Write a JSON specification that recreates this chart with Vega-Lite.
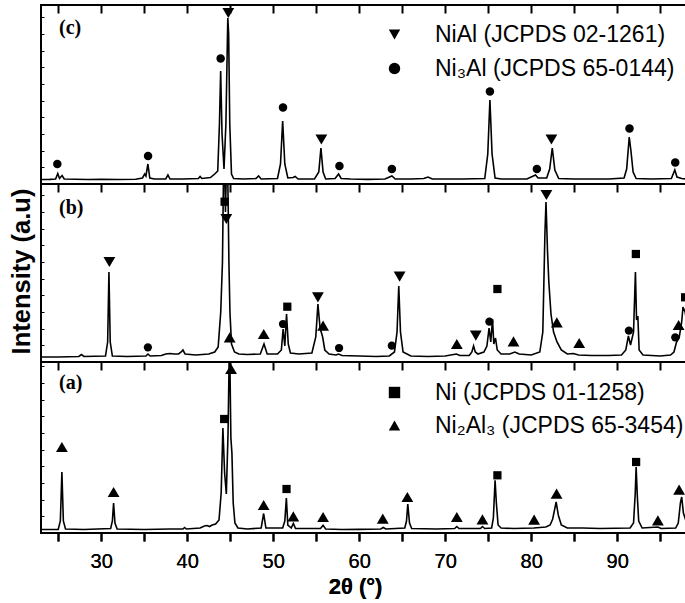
{
  "$schema": "https://vega.github.io/schema/vega-lite/v6.json",
  "autosize": {"type": "pad"},
  "padding": {"left": 8, "top": 3, "right": 0, "bottom": 4},
  "background": "white",
  "bounds": "flush",
  "spacing": 0,
  "datasets": {
    "scan_c": [
      {"t": 23.0, "i": 4.5}, {"t": 24.0, "i": 4.6}, {"t": 24.7, "i": 5}, {"t": 24.95, "i": 10.5}, {"t": 25.15, "i": 5.5},
      {"t": 25.45, "i": 8.5}, {"t": 25.7, "i": 5}, {"t": 27.0, "i": 4.8}, {"t": 28.5, "i": 4.5}, {"t": 30.0, "i": 4.7},
      {"t": 32.0, "i": 4.5}, {"t": 34.0, "i": 4.8}, {"t": 34.8, "i": 6}, {"t": 35.05, "i": 10}, {"t": 35.2, "i": 8},
      {"t": 35.43, "i": 20}, {"t": 35.65, "i": 6}, {"t": 36.2, "i": 5}, {"t": 37.5, "i": 5}, {"t": 37.76, "i": 9},
      {"t": 38.0, "i": 5}, {"t": 39.5, "i": 5}, {"t": 41.3, "i": 5.5}, {"t": 41.5, "i": 7.5}, {"t": 41.7, "i": 5.5},
      {"t": 42.7, "i": 6.5}, {"t": 43.2, "i": 10}, {"t": 43.55, "i": 13}, {"t": 43.75, "i": 60}, {"t": 43.89, "i": 113},
      {"t": 44.05, "i": 50}, {"t": 44.28, "i": 15}, {"t": 44.5, "i": 60}, {"t": 44.72, "i": 166}, {"t": 44.82, "i": 150},
      {"t": 44.95, "i": 60}, {"t": 45.15, "i": 10}, {"t": 45.4, "i": 5.5}, {"t": 46.5, "i": 5}, {"t": 48.0, "i": 5.5},
      {"t": 48.3, "i": 8}, {"t": 48.6, "i": 5}, {"t": 50.5, "i": 5.5}, {"t": 50.85, "i": 20}, {"t": 51.1, "i": 63},
      {"t": 51.35, "i": 20}, {"t": 51.7, "i": 6}, {"t": 52.3, "i": 6.5}, {"t": 52.55, "i": 7.5}, {"t": 52.9, "i": 5},
      {"t": 54.8, "i": 5}, {"t": 55.3, "i": 12}, {"t": 55.55, "i": 36}, {"t": 55.8, "i": 12}, {"t": 56.1, "i": 5},
      {"t": 57.2, "i": 5.5}, {"t": 57.6, "i": 10}, {"t": 57.9, "i": 5.5}, {"t": 59.0, "i": 5}, {"t": 61.0, "i": 4.6},
      {"t": 63.0, "i": 5}, {"t": 63.8, "i": 8}, {"t": 64.2, "i": 5}, {"t": 66.0, "i": 5}, {"t": 67.5, "i": 5.5},
      {"t": 68.0, "i": 7}, {"t": 68.5, "i": 5}, {"t": 70.0, "i": 5}, {"t": 72.0, "i": 5}, {"t": 74.6, "i": 5.5},
      {"t": 74.95, "i": 30}, {"t": 75.2, "i": 84}, {"t": 75.45, "i": 30}, {"t": 75.8, "i": 6}, {"t": 76.5, "i": 5},
      {"t": 78.0, "i": 5}, {"t": 79.5, "i": 5}, {"t": 80.5, "i": 9}, {"t": 80.8, "i": 6}, {"t": 81.8, "i": 6},
      {"t": 82.15, "i": 15}, {"t": 82.45, "i": 36}, {"t": 82.75, "i": 14}, {"t": 83.2, "i": 5.5}, {"t": 85.0, "i": 5},
      {"t": 87.0, "i": 5}, {"t": 89.0, "i": 5}, {"t": 90.8, "i": 6}, {"t": 91.1, "i": 15}, {"t": 91.4, "i": 47},
      {"t": 91.6, "i": 33}, {"t": 91.85, "i": 12}, {"t": 92.2, "i": 5.5}, {"t": 94.0, "i": 5}, {"t": 96.3, "i": 5.5},
      {"t": 96.7, "i": 14}, {"t": 96.95, "i": 7}, {"t": 97.5, "i": 5.5}, {"t": 98.0, "i": 5}
    ],
    "peaks_c": [
      {"t": 44.78, "i": 171, "phase": "NiAl"}, {"t": 55.6, "i": 44.5, "phase": "NiAl"}, {"t": 82.35, "i": 44.5, "phase": "NiAl"},
      {"t": 24.9, "i": 20, "phase": "Ni3Al"}, {"t": 35.45, "i": 28, "phase": "Ni3Al"}, {"t": 43.89, "i": 125.5, "phase": "Ni3Al"},
      {"t": 51.14, "i": 76.5, "phase": "Ni3Al"}, {"t": 57.7, "i": 18, "phase": "Ni3Al"}, {"t": 63.8, "i": 15, "phase": "Ni3Al"},
      {"t": 75.2, "i": 92.5, "phase": "Ni3Al"}, {"t": 80.66, "i": 15, "phase": "Ni3Al"}, {"t": 91.43, "i": 55.5, "phase": "Ni3Al"},
      {"t": 96.75, "i": 21.5, "phase": "Ni3Al"}
    ],
    "scan_b": [
      {"t": 23.0, "i": 5}, {"t": 25.0, "i": 5}, {"t": 27.4, "i": 5.5}, {"t": 27.7, "i": 7.5}, {"t": 28.0, "i": 5.5},
      {"t": 30.5, "i": 6}, {"t": 30.75, "i": 20}, {"t": 30.9, "i": 90}, {"t": 31.05, "i": 20}, {"t": 31.3, "i": 6},
      {"t": 33.0, "i": 5.5}, {"t": 35.2, "i": 6}, {"t": 35.43, "i": 8}, {"t": 35.7, "i": 6}, {"t": 37.0, "i": 6.5},
      {"t": 37.5, "i": 8}, {"t": 38.0, "i": 8.5}, {"t": 38.5, "i": 8}, {"t": 39.0, "i": 8}, {"t": 39.3, "i": 10},
      {"t": 39.5, "i": 12}, {"t": 39.75, "i": 8}, {"t": 41.0, "i": 7}, {"t": 42.5, "i": 8}, {"t": 43.2, "i": 10},
      {"t": 43.6, "i": 15}, {"t": 43.9, "i": 50}, {"t": 44.1, "i": 100}, {"t": 44.28, "i": 230}, {"t": 44.45, "i": 150},
      {"t": 44.65, "i": 230}, {"t": 44.85, "i": 100}, {"t": 44.97, "i": 50}, {"t": 45.15, "i": 18}, {"t": 45.5, "i": 10},
      {"t": 46.0, "i": 8}, {"t": 47.0, "i": 7.5}, {"t": 48.5, "i": 8}, {"t": 48.93, "i": 18}, {"t": 49.3, "i": 8},
      {"t": 50.5, "i": 8}, {"t": 50.95, "i": 12}, {"t": 51.15, "i": 33}, {"t": 51.35, "i": 16}, {"t": 51.55, "i": 48},
      {"t": 51.75, "i": 18}, {"t": 52.0, "i": 9}, {"t": 53.0, "i": 8}, {"t": 54.5, "i": 9}, {"t": 54.95, "i": 25},
      {"t": 55.2, "i": 58}, {"t": 55.45, "i": 34}, {"t": 55.75, "i": 25}, {"t": 56.0, "i": 12}, {"t": 56.5, "i": 8},
      {"t": 57.3, "i": 7}, {"t": 57.6, "i": 8}, {"t": 58.0, "i": 6.5}, {"t": 60.0, "i": 6}, {"t": 62.0, "i": 5.5},
      {"t": 63.5, "i": 6}, {"t": 64.1, "i": 10}, {"t": 64.4, "i": 30}, {"t": 64.6, "i": 76}, {"t": 64.8, "i": 30},
      {"t": 65.1, "i": 10}, {"t": 66.0, "i": 6}, {"t": 68.0, "i": 5.5}, {"t": 70.0, "i": 6}, {"t": 71.3, "i": 8},
      {"t": 71.7, "i": 6.5}, {"t": 72.8, "i": 6.5}, {"t": 73.1, "i": 10}, {"t": 73.3, "i": 16}, {"t": 73.5, "i": 10},
      {"t": 73.8, "i": 8}, {"t": 74.5, "i": 10}, {"t": 74.85, "i": 16}, {"t": 75.1, "i": 34}, {"t": 75.3, "i": 20},
      {"t": 75.5, "i": 43}, {"t": 75.65, "i": 18}, {"t": 75.85, "i": 24}, {"t": 76.05, "i": 12}, {"t": 76.5, "i": 8},
      {"t": 77.5, "i": 8}, {"t": 78.1, "i": 10}, {"t": 78.6, "i": 8}, {"t": 80.0, "i": 7}, {"t": 81.0, "i": 10},
      {"t": 81.35, "i": 30}, {"t": 81.6, "i": 130}, {"t": 81.72, "i": 160}, {"t": 81.9, "i": 110}, {"t": 82.05, "i": 80},
      {"t": 82.3, "i": 48}, {"t": 82.6, "i": 30}, {"t": 83.0, "i": 20}, {"t": 83.5, "i": 12}, {"t": 84.2, "i": 8},
      {"t": 84.9, "i": 8.5}, {"t": 85.5, "i": 7}, {"t": 87.0, "i": 6.5}, {"t": 89.0, "i": 6.5}, {"t": 90.5, "i": 7},
      {"t": 91.0, "i": 12}, {"t": 91.3, "i": 26}, {"t": 91.55, "i": 17}, {"t": 91.9, "i": 30}, {"t": 92.12, "i": 90},
      {"t": 92.25, "i": 42}, {"t": 92.4, "i": 46}, {"t": 92.55, "i": 12}, {"t": 93.0, "i": 7}, {"t": 95.0, "i": 6},
      {"t": 96.2, "i": 7}, {"t": 96.6, "i": 10}, {"t": 96.9, "i": 20}, {"t": 97.2, "i": 24}, {"t": 97.5, "i": 40},
      {"t": 97.65, "i": 55}, {"t": 97.9, "i": 50}, {"t": 98.0, "i": 45}
    ],
    "peaks_b": [
      {"t": 30.95, "i": 100, "phase": "NiAl"}, {"t": 44.55, "i": 143, "phase": "NiAl"}, {"t": 55.2, "i": 64.7, "phase": "NiAl"},
      {"t": 64.7, "i": 85.3, "phase": "NiAl"}, {"t": 73.56, "i": 26.3, "phase": "NiAl"}, {"t": 81.77, "i": 167, "phase": "NiAl"},
      {"t": 44.35, "i": 160.3, "phase": "Ni"}, {"t": 51.64, "i": 55.3, "phase": "Ni"}, {"t": 76.07, "i": 73, "phase": "Ni"},
      {"t": 92.17, "i": 108, "phase": "Ni"}, {"t": 97.9, "i": 64.7, "phase": "Ni"},
      {"t": 35.43, "i": 14.7, "phase": "Ni3Al"}, {"t": 51.14, "i": 38, "phase": "Ni3Al"}, {"t": 57.66, "i": 14, "phase": "Ni3Al"},
      {"t": 63.79, "i": 16.3, "phase": "Ni3Al"}, {"t": 75.14, "i": 40.3, "phase": "Ni3Al"}, {"t": 91.36, "i": 31.3, "phase": "Ni3Al"},
      {"t": 96.75, "i": 24.7, "phase": "Ni3Al"},
      {"t": 44.94, "i": 24.7, "phase": "Ni2Al3"}, {"t": 48.9, "i": 28, "phase": "Ni2Al3"}, {"t": 55.8, "i": 36.3, "phase": "Ni2Al3"},
      {"t": 71.35, "i": 18, "phase": "Ni2Al3"}, {"t": 77.94, "i": 20.7, "phase": "Ni2Al3"}, {"t": 82.98, "i": 39.7, "phase": "Ni2Al3"},
      {"t": 85.58, "i": 19, "phase": "Ni2Al3"}, {"t": 97.14, "i": 37, "phase": "Ni2Al3"}
    ],
    "scan_a": [
      {"t": 23.0, "i": 3.5}, {"t": 25.0, "i": 3.6}, {"t": 25.25, "i": 12}, {"t": 25.43, "i": 61}, {"t": 25.6, "i": 12},
      {"t": 25.85, "i": 4}, {"t": 28.0, "i": 3.5}, {"t": 31.1, "i": 4.5}, {"t": 31.3, "i": 12}, {"t": 31.44, "i": 30},
      {"t": 31.6, "i": 10}, {"t": 31.85, "i": 4}, {"t": 35.0, "i": 3.5}, {"t": 38.0, "i": 4}, {"t": 39.5, "i": 4},
      {"t": 39.7, "i": 5.5}, {"t": 39.9, "i": 4}, {"t": 41.5, "i": 5}, {"t": 42.0, "i": 7}, {"t": 42.3, "i": 7.5},
      {"t": 42.6, "i": 6.5}, {"t": 42.9, "i": 8}, {"t": 43.3, "i": 9}, {"t": 43.7, "i": 13}, {"t": 43.95, "i": 40},
      {"t": 44.15, "i": 105}, {"t": 44.35, "i": 60}, {"t": 44.55, "i": 39}, {"t": 44.75, "i": 100}, {"t": 44.92, "i": 200},
      {"t": 45.08, "i": 95}, {"t": 45.2, "i": 80}, {"t": 45.35, "i": 30}, {"t": 45.55, "i": 10}, {"t": 45.9, "i": 5},
      {"t": 47.0, "i": 4}, {"t": 48.6, "i": 5}, {"t": 48.89, "i": 19.5}, {"t": 49.15, "i": 5}, {"t": 51.1, "i": 5},
      {"t": 51.35, "i": 12}, {"t": 51.53, "i": 35}, {"t": 51.7, "i": 8}, {"t": 52.1, "i": 5}, {"t": 52.34, "i": 9.5},
      {"t": 52.6, "i": 4.5}, {"t": 55.5, "i": 4.5}, {"t": 55.8, "i": 7.7}, {"t": 56.1, "i": 4}, {"t": 58.0, "i": 3.5},
      {"t": 60.0, "i": 3.6}, {"t": 62.5, "i": 4}, {"t": 62.8, "i": 5.5}, {"t": 63.1, "i": 4}, {"t": 65.3, "i": 5},
      {"t": 65.5, "i": 12}, {"t": 65.65, "i": 29}, {"t": 65.85, "i": 10}, {"t": 66.1, "i": 4.5}, {"t": 69.0, "i": 4},
      {"t": 71.1, "i": 4.5}, {"t": 71.35, "i": 6.5}, {"t": 71.6, "i": 4.5}, {"t": 74.1, "i": 4.5}, {"t": 74.33, "i": 6.5},
      {"t": 74.6, "i": 4.5}, {"t": 75.4, "i": 5}, {"t": 75.6, "i": 15}, {"t": 75.8, "i": 52.7}, {"t": 75.95, "i": 30},
      {"t": 76.15, "i": 8}, {"t": 76.5, "i": 5}, {"t": 78.0, "i": 4.5}, {"t": 80.3, "i": 5}, {"t": 81.7, "i": 6},
      {"t": 82.2, "i": 8}, {"t": 82.5, "i": 14}, {"t": 82.9, "i": 31}, {"t": 83.15, "i": 18}, {"t": 83.5, "i": 8},
      {"t": 84.2, "i": 5}, {"t": 86.0, "i": 5}, {"t": 88.0, "i": 4.5}, {"t": 91.5, "i": 5}, {"t": 91.9, "i": 10},
      {"t": 92.1, "i": 40}, {"t": 92.2, "i": 66}, {"t": 92.35, "i": 35}, {"t": 92.5, "i": 12}, {"t": 92.9, "i": 5},
      {"t": 94.73, "i": 6}, {"t": 95.1, "i": 4.5}, {"t": 96.8, "i": 5}, {"t": 97.1, "i": 10}, {"t": 97.35, "i": 30},
      {"t": 97.5, "i": 36}, {"t": 97.7, "i": 20}, {"t": 98.0, "i": 12}
    ],
    "peaks_a": [
      {"t": 44.3, "i": 114, "phase": "Ni"}, {"t": 51.55, "i": 44, "phase": "Ni"}, {"t": 76.07, "i": 57.7, "phase": "Ni"},
      {"t": 92.2, "i": 71, "phase": "Ni"},
      {"t": 25.43, "i": 86, "phase": "Ni2Al3"}, {"t": 31.44, "i": 41, "phase": "Ni2Al3"}, {"t": 45.1, "i": 164, "phase": "Ni2Al3"},
      {"t": 48.89, "i": 28, "phase": "Ni2Al3"}, {"t": 52.34, "i": 16.7, "phase": "Ni2Al3"}, {"t": 55.8, "i": 16, "phase": "Ni2Al3"},
      {"t": 62.74, "i": 14.3, "phase": "Ni2Al3"}, {"t": 65.6, "i": 36, "phase": "Ni2Al3"}, {"t": 71.35, "i": 16, "phase": "Ni2Al3"},
      {"t": 74.33, "i": 13.7, "phase": "Ni2Al3"}, {"t": 80.34, "i": 13.3, "phase": "Ni2Al3"}, {"t": 82.95, "i": 39.3, "phase": "Ni2Al3"},
      {"t": 94.73, "i": 12.7, "phase": "Ni2Al3"}, {"t": 97.2, "i": 43.3, "phase": "Ni2Al3"}
    ]
  },
  "resolve": {
    "scale": {"y": "independent", "shape": "independent"},
    "legend": {"shape": "independent"}
  },
  "vconcat": [
    {
      "width": 645,
      "height": 179,
      "title": {"text": "(c)", "offset": -34, "dx": 18, "fontSize": 20},
      "encoding": {
        "x": {"field": "t", "type": "quantitative", "scale": {"domain": [23, 98], "nice": false, "zero": false},
          "axis": {"orient": "top", "values": [25, 30, 35, 40, 45, 50, 55, 60, 65, 70, 75, 80, 85, 90, 95], "labels": false, "tickSize": -8, "tickWidth": 2, "title": null}},
        "y": {"field": "i", "type": "quantitative", "scale": {"domain": [0, 179], "nice": false, "zero": false},
          "axis": {"orient": "left", "values": [16.7, 33.3, 50, 66.7, 83.3, 100, 116.7, 133.3, 150, 166.7], "labels": false, "tickSize": -3, "tickWidth": 1, "title": null}}
      },
      "layer": [
        {"data": {"name": "scan_c"}, "mark": {"type": "line", "color": "black", "strokeWidth": 1.6, "clip": true}},
        {
          "data": {"name": "peaks_c"},
          "transform": [{"filter": {"field": "phase", "oneOf": ["NiAl"]}}],
          "mark": {"type": "point", "filled": true, "color": "black", "opacity": 1, "strokeWidth": 0, "size": 140},
          "encoding": {
            "shape": {"field": "phase", "type": "nominal", "scale": {"domain": ["NiAl", "Ni3Al"], "range": ["triangle-down", "circle"]},
              "legend": {"orient": "none", "legendX": 342, "legendY": 18, "title": null, "padding": 0, "rowPadding": 10,
                "labelExpr": "datum.value == 'Ni3Al' ? 'Ni₃Al (JCPDS 65-0144)' : 'NiAl (JCPDS 02-1261)'"}}
          }
        },
        {
          "data": {"name": "peaks_c"},
          "transform": [{"filter": {"field": "phase", "oneOf": ["Ni3Al"]}}],
          "mark": {"type": "point", "filled": true, "color": "black", "opacity": 1, "strokeWidth": 0, "size": 72},
          "encoding": {
            "shape": {"field": "phase", "type": "nominal", "scale": {"domain": ["NiAl", "Ni3Al"], "range": ["triangle-down", "circle"]},
              "legend": {"orient": "none", "legendX": 342, "legendY": 18, "title": null, "padding": 0, "rowPadding": 10,
                "labelExpr": "datum.value == 'Ni3Al' ? 'Ni₃Al (JCPDS 65-0144)' : 'NiAl (JCPDS 02-1261)'"}}
          }
        }
      ]
    },
    {
      "width": 645,
      "height": 178,
      "title": {"text": "(b)", "offset": -35, "dx": 18, "fontSize": 20},
      "encoding": {
        "x": {"field": "t", "type": "quantitative", "scale": {"domain": [23, 98], "nice": false, "zero": false},
          "axis": {"orient": "top", "values": [25, 30, 35, 40, 45, 50, 55, 60, 65, 70, 75, 80, 85, 90, 95], "labels": false, "tickSize": -8, "tickWidth": 2, "title": null}},
        "y": {"field": "i", "type": "quantitative", "scale": {"domain": [0, 178], "nice": false, "zero": false},
          "axis": {"orient": "left", "values": [16.7, 33.3, 50, 66.7, 83.3, 100, 116.7, 133.3, 150, 166.7], "labels": false, "tickSize": -3, "tickWidth": 1,
            "title": "Intensity (a.u)", "titleFont": "Liberation Sans", "titleFontWeight": "bold", "titleFontSize": 25.5, "titleColor": "black",
            "titleX": -20, "titleY": 87, "titleAngle": -90, "titleAlign": "center", "titleBaseline": "middle"}}
      },
      "layer": [
        {"data": {"name": "scan_b"}, "mark": {"type": "line", "color": "black", "strokeWidth": 1.6, "clip": true}},
        {
          "data": {"name": "peaks_b"},
          "transform": [{"filter": {"field": "phase", "oneOf": ["NiAl", "Ni2Al3"]}}],
          "mark": {"type": "point", "filled": true, "color": "black", "opacity": 1, "strokeWidth": 0, "size": 140},
          "encoding": {
            "shape": {"field": "phase", "type": "nominal", "scale": {"domain": ["NiAl", "Ni", "Ni3Al", "Ni2Al3"], "range": ["triangle-down", "square", "circle", "triangle-up"]}, "legend": null}
          }
        },
        {
          "data": {"name": "peaks_b"},
          "transform": [{"filter": {"field": "phase", "oneOf": ["Ni", "Ni3Al"]}}],
          "mark": {"type": "point", "filled": true, "color": "black", "opacity": 1, "strokeWidth": 0, "size": 68},
          "encoding": {
            "shape": {"field": "phase", "type": "nominal", "scale": {"domain": ["NiAl", "Ni", "Ni3Al", "Ni2Al3"], "range": ["triangle-down", "square", "circle", "triangle-up"]}, "legend": null}
          }
        }
      ]
    },
    {
      "width": 645,
      "height": 171,
      "title": {"text": "(a)", "offset": -32, "dx": 18, "fontSize": 20},
      "encoding": {
        "x": {"field": "t", "type": "quantitative", "scale": {"domain": [23, 98], "nice": false, "zero": false},
          "axis": {"orient": "bottom", "values": [25, 30, 35, 40, 45, 50, 55, 60, 65, 70, 75, 80, 85, 90, 95],
            "labelExpr": "datum.value % 10 == 0 ? datum.label : ''", "tickSize": 8, "tickWidth": 2,
            "labelFont": "Liberation Sans", "labelFontSize": 20, "labelPadding": 10, "labelColor": "black", "labelFlush": false, "labelOverlap": false,
            "title": "2θ (°)", "titleFont": "Liberation Sans", "titleFontWeight": "bold", "titleFontSize": 22, "titleColor": "black",
            "titleX": 314, "titleY": 53, "titleAlign": "center", "titleBaseline": "middle"}},
        "y": {"field": "i", "type": "quantitative", "scale": {"domain": [0, 171], "nice": false, "zero": false},
          "axis": {"orient": "left", "values": [16.7, 33.3, 50, 66.7, 83.3, 100, 116.7, 133.3, 150, 166.7], "labels": false, "tickSize": -3, "tickWidth": 1, "title": null}}
      },
      "layer": [
        {"data": {"name": "scan_a"}, "mark": {"type": "line", "color": "black", "strokeWidth": 1.6, "clip": true}},
        {
          "data": {"name": "peaks_a"},
          "transform": [{"filter": {"field": "phase", "oneOf": ["Ni"]}}],
          "mark": {"type": "point", "filled": true, "color": "black", "opacity": 1, "strokeWidth": 0, "size": 68},
          "encoding": {
            "x": {"field": "t", "type": "quantitative", "scale": {"domain": [23, 98], "nice": false, "zero": false},
              "axis": {"orient": "top", "values": [25, 30, 35, 40, 45, 50, 55, 60, 65, 70, 75, 80, 85, 90, 95], "labels": false, "tickSize": -8, "tickWidth": 2, "title": null}},
            "shape": {"field": "phase", "type": "nominal", "scale": {"domain": ["Ni", "Ni2Al3"], "range": ["square", "triangle-up"]},
              "legend": {"orient": "none", "legendX": 342, "legendY": 19, "title": null, "padding": 0, "rowPadding": 9,
                "labelExpr": "datum.value == 'Ni2Al3' ? 'Ni₂Al₃ (JCPDS 65-3454)' : 'Ni (JCPDS 01-1258)'"}}
          }
        },
        {
          "data": {"name": "peaks_a"},
          "transform": [{"filter": {"field": "phase", "oneOf": ["Ni2Al3"]}}],
          "mark": {"type": "point", "filled": true, "color": "black", "opacity": 1, "strokeWidth": 0, "size": 140},
          "encoding": {
            "shape": {"field": "phase", "type": "nominal", "scale": {"domain": ["Ni", "Ni2Al3"], "range": ["square", "triangle-up"]},
              "legend": {"orient": "none", "legendX": 342, "legendY": 19, "title": null, "padding": 0, "rowPadding": 9,
                "labelExpr": "datum.value == 'Ni2Al3' ? 'Ni₂Al₃ (JCPDS 65-3454)' : 'Ni (JCPDS 01-1258)'"}}
          }
        }
      ]
    }
  ],
  "config": {
    "view": {"stroke": "black", "strokeWidth": 2},
    "axis": {"domain": false, "grid": false, "tickColor": "black"},
    "title": {"anchor": "start", "frame": "group", "orient": "top",
      "font": "Liberation Serif", "fontWeight": "bold", "fontSize": 20, "color": "black"},
    "legend": {
      "labelFont": "Liberation Sans", "labelFontSize": 23, "labelColor": "black", "labelLimit": 400, "labelOffset": 29,
      "symbolSize": 130, "symbolFillColor": "black", "symbolStrokeColor": "black", "symbolStrokeWidth": 0, "symbolOpacity": 1
    }
  }
}
